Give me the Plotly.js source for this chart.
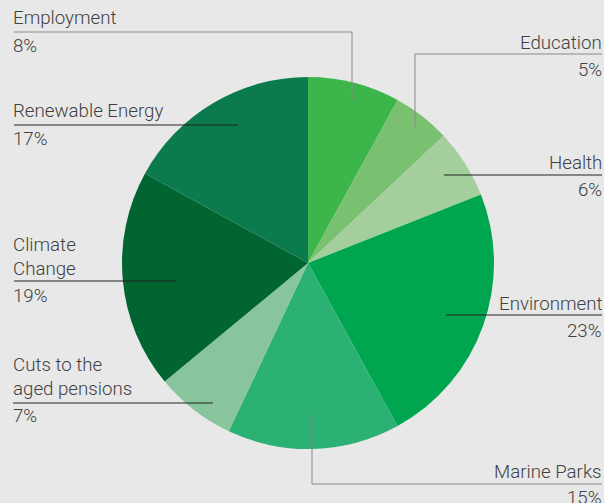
<!DOCTYPE html>
<html>
<head>
<meta charset="utf-8">
<script src="https://cdn.plot.ly/plotly-3.0.1.min.js"></script>
<style>html,body{margin:0;padding:0;background:#e8e8e8;}#chart{width:604px;height:503px;}</style>
</head>
<body>
<div id="chart"></div>
<script>
const categories = ["Employment", "Education", "Health", "Environment", "Marine Parks", "Cuts to the aged pensions", "Climate Change", "Renewable Energy"];
const labelText = ["Employment", "Education", "Health", "Environment", "Marine Parks", "Cuts to the<br>aged pensions", "Climate<br>Change", "Renewable Energy"];
const values = [8, 5, 6, 23, 15, 7, 19, 17];
const colors = ["#3cb54a", "#79c070", "#a4cf9c", "#00a64f", "#2bb173", "#88c59c", "#006531", "#0b7a4d"];

const W = 604, H = 503;
const px = x => x / W, py = y => 1 - y / H;

// label layout (pixel positions): side, x, name block centre y, pct y, leader polyline, line colour
const layoutInfo = [
  {side: "left",  x: 12,  ny: 18,  vy: 46,  pts: [[14,32],[352,32],[352,100]], c: "#8a8a8a"},
  {side: "right", x: 603, ny: 43,  vy: 70,  pts: [[602,54],[415,54],[415,127]], c: "#8a8a8a"},
  {side: "right", x: 603, ny: 163, vy: 190, pts: [[602,175],[444,175]], c: "#222"},
  {side: "right", x: 603, ny: 304, vy: 331, pts: [[602,315],[446,315]], c: "#222"},
  {side: "right", x: 603, ny: 472, vy: 498, pts: [[602,484],[312,484],[312,415]], c: "#8a8a8a"},
  {side: "left",  x: 12,  ny: 377, vy: 416, pts: [[13,403],[213,403]], c: "#222"},
  {side: "left",  x: 12,  ny: 257, vy: 296, pts: [[14,281],[176,281]], c: "#222"},
  {side: "left",  x: 12,  ny: 111, vy: 139, pts: [[14,125],[238,125]], c: "#222"}
];

const font = {family: "Roboto, 'Open Sans', sans-serif", size: 18.7, color: "#404040", weight: 300};
const annotations = [];
const shapes = [];
categories.forEach((cat, i) => {
  const L = layoutInfo[i];
  const common = {xref: "paper", yref: "paper", showarrow: false, font: font,
    xanchor: L.side, yanchor: "middle", x: px(L.x), align: L.side, borderpad: 0};
  annotations.push(Object.assign({}, common, {y: py(L.ny), text: labelText[i]}));
  annotations.push(Object.assign({}, common, {y: py(L.vy), text: values[i] + "%"}));
  for (let k = 0; k < L.pts.length - 1; k++) {
    shapes.push({type: "line", xref: "paper", yref: "paper",
      x0: px(L.pts[k][0]), y0: py(L.pts[k][1]), x1: px(L.pts[k+1][0]), y1: py(L.pts[k+1][1]),
      line: {color: L.c, width: 1}});
  }
});

const cx = 308, cy = 263, r = 186;
const data = [{
  type: "pie",
  labels: categories,
  values: values,
  sort: false,
  direction: "clockwise",
  rotation: 0,
  marker: {colors: colors, line: {width: 0}},
  textinfo: "none",
  hoverinfo: "none",
  showlegend: false,
  domain: {x: [px(cx - r), px(cx + r)], y: [py(cy + r), py(cy - r)]}
}];

const layout = {
  width: W, height: H,
  margin: {l: 0, r: 0, t: 0, b: 0, pad: 0},
  paper_bgcolor: "#e8e8e8",
  plot_bgcolor: "#e8e8e8",
  showlegend: false,
  annotations: annotations,
  shapes: shapes
};

Plotly.newPlot("chart", data, layout, {displayModeBar: false, staticPlot: true});
</script>
</body>
</html>
